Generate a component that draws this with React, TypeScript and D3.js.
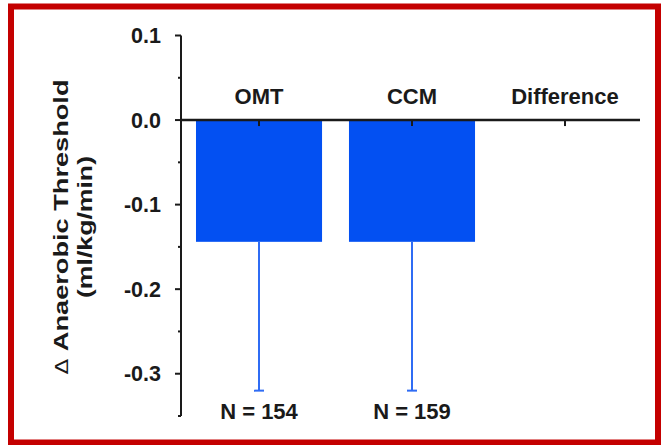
import React from "react";
import * as d3 from "d3";

// Change in anaerobic threshold by treatment group
const categories = ["OMT", "CCM", "Difference"];
const meanChange: (number | null)[] = [-0.144, -0.144, null];
const lowerError: (number | null)[] = [-0.32, -0.32, null];
const sampleLabels: (string | null)[] = ["N = 154", "N = 159", null];
const majorTicks = [0.1, 0.0, -0.1, -0.2, -0.3];
const minorTicks = [0.05, -0.05, -0.15, -0.25, -0.35];
const yTitleSymbol = "\u0394";
const yTitle = ["Anaerobic Threshold", "(ml/kg/min)"];

const W = 661;
const H = 445;
const FONT = "'Liberation Sans', Arial, Helvetica, sans-serif";
const BAR = "#0350f2";
const ERR = "#2f6cf4";
const INK = "#1a1a1a";

// plain hyphen for negatives, one decimal
const fmt = (v: number) => (Math.abs(v) < 1e-9 ? 0 : v).toFixed(1);

export default function App() {
  const y = d3.scaleLinear().domain([-0.35, 0.1]).range([416, 35.5]);
  const x = d3
    .scaleBand<string>()
    .domain(categories)
    .range([181, 643])
    .paddingInner(0.176)
    .paddingOuter(0.098);
  const axisX = 181;
  const zeroY = y(0);

  return (
    <svg
      width={W}
      height={H}
      style={{ position: "absolute", left: 0, top: 0, background: "#fff" }}
      fontFamily={FONT}
    >
      <rect x={0} y={0} width={W} height={H} fill="#fff" />
      <rect x={11} y={6.5} width={647} height={436} fill="none" stroke="#c40000" strokeWidth={6} />

      {/* bars */}
      {categories.map((c, i) => {
        const v = meanChange[i];
        if (v == null) return null;
        return (
          <rect
            key={c}
            x={x(c)!}
            y={Math.min(y(v), zeroY)}
            width={x.bandwidth()}
            height={Math.abs(y(v) - zeroY)}
            fill={BAR}
          />
        );
      })}

      {/* error bars */}
      {categories.map((c, i) => {
        const v = meanChange[i];
        const lo = lowerError[i];
        if (v == null || lo == null) return null;
        const cx = x(c)! + x.bandwidth() / 2;
        return (
          <g key={c} stroke={ERR} strokeWidth={2}>
            <line x1={cx} x2={cx} y1={y(v)} y2={y(lo)} />
            <line x1={cx - 5} x2={cx + 5} y1={y(lo)} y2={y(lo)} />
          </g>
        );
      })}

      {/* y axis */}
      <line x1={axisX} x2={axisX} y1={y(0.1)} y2={y(-0.35)} stroke={INK} strokeWidth={2} />
      {majorTicks.map((t) => (
        <g key={t}>
          <line x1={axisX - 6} x2={axisX} y1={y(t)} y2={y(t)} stroke={INK} strokeWidth={2} />
          <text
            x={161}
            y={y(t)}
            dy="0.36em"
            textAnchor="end"
            fontSize={21.5}
            fontWeight="bold"
            fill={INK}
          >
            {fmt(t)}
          </text>
        </g>
      ))}
      {minorTicks.map((t) => (
        <line key={t} x1={axisX - 3} x2={axisX} y1={y(t)} y2={y(t)} stroke={INK} strokeWidth={2} />
      ))}

      {/* zero line with category ticks */}
      <line x1={axisX} x2={640} y1={zeroY} y2={zeroY} stroke={INK} strokeWidth={2.5} />
      {categories.map((c) => {
        const cx = x(c)! + x.bandwidth() / 2;
        return (
          <g key={c}>
            <line x1={cx} x2={cx} y1={zeroY} y2={zeroY + 6} stroke={INK} strokeWidth={2} />
            <text x={cx} y={104} textAnchor="middle" fontSize={22} fontWeight="bold" fill={INK}>
              {c}
            </text>
          </g>
        );
      })}

      {/* sample sizes */}
      {categories.map((c, i) => {
        const s = sampleLabels[i];
        if (!s) return null;
        const cx = x(c)! + x.bandwidth() / 2;
        return (
          <text key={c} x={cx} y={419} textAnchor="middle" fontSize={22} fontWeight="bold" fill={INK}>
            {s}
          </text>
        );
      })}

      {/* y title */}
      <g transform="translate(68,227) rotate(-90)">
        <text
          x={0}
          y={0}
          textAnchor="middle"
          fontSize={20}
          fontWeight="bold"
          fill={INK}
          textLength={295}
          lengthAdjust="spacingAndGlyphs"
        >
          <tspan fontWeight="normal" fontFamily="'DejaVu Sans', sans-serif" fontSize={17}>
            {yTitleSymbol}
          </tspan>
          {" " + yTitle[0]}
        </text>
        <text
          x={0}
          y={24}
          textAnchor="middle"
          fontSize={20}
          fontWeight="bold"
          fill={INK}
          textLength={142}
          lengthAdjust="spacingAndGlyphs"
        >
          {yTitle[1]}
        </text>
      </g>
    </svg>
  );
}
